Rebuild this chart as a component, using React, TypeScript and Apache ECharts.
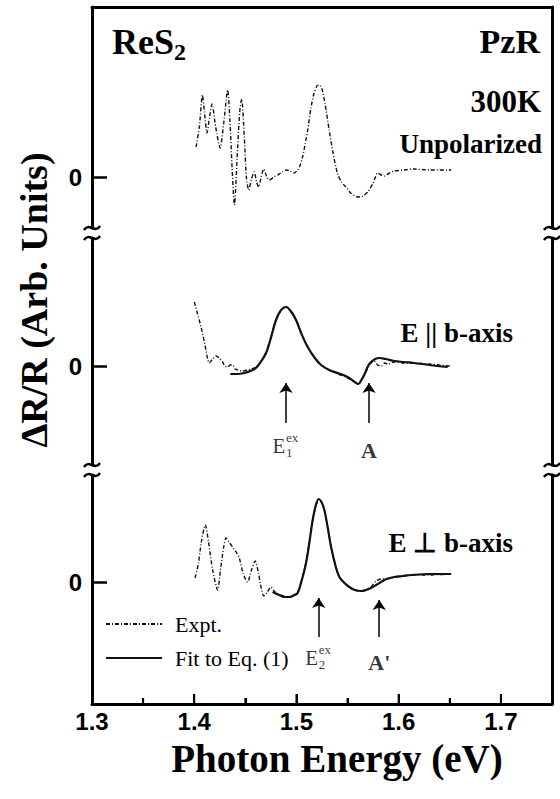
import React, { useEffect, useRef } from 'react';
import * as echarts from 'echarts';

// ---------- data ----------
const xMajorTicks = [1.3, 1.4, 1.5, 1.6, 1.7];
const xMinorTicks = [1.35, 1.45, 1.55, 1.65];
const zeroTick = [0];

// Panel 1: unpolarized, experiment
const unpolEnergy = [1.4018, 1.405, 1.408, 1.41, 1.4125, 1.415, 1.4174, 1.421, 1.4253, 1.429, 1.4327, 1.435, 1.437, 1.4393, 1.442, 1.4445, 1.4464, 1.449, 1.451, 1.4533, 1.456, 1.4588, 1.461, 1.463, 1.4655, 1.468, 1.471, 1.4735, 1.478, 1.4816, 1.486, 1.4898, 1.494, 1.498, 1.501, 1.503, 1.506, 1.5085, 1.511, 1.514, 1.517, 1.52, 1.5224, 1.525, 1.528, 1.532, 1.536, 1.54, 1.544, 1.5485, 1.553, 1.56, 1.565, 1.5697, 1.575, 1.5795, 1.583, 1.586, 1.591, 1.5958, 1.605, 1.615, 1.63, 1.6513];
const unpolSignal = [3.0, 5.0, 8.2, 6.5, 4.4, 6.0, 7.3, 5.0, 2.9, 5.5, 8.7, 5.5, 1.0, -2.8, 2.0, 6.5, 7.8, 4.0, 0.0, -1.3, -0.2, 0.5, -0.5, -1.0, 0.0, 0.8, 0.0, -0.3, 0.0, 0.2, 0.5, 0.7, 0.6, 0.4, 0.7, 1.0, 2.0, 3.3, 4.7, 6.8, 8.3, 9.1, 9.2, 8.8, 7.3, 4.7, 2.3, 0.4, -0.5, -1.0, -1.6, -2.0, -1.9, -1.5, -0.6, 0.4, 0.2, 0.1, 0.4, 0.6, 0.7, 0.8, 0.7, 0.7];

// Panel 2: E || b-axis
const paraExptEnergy = [1.4001, 1.403, 1.4067, 1.41, 1.4148, 1.418, 1.4213, 1.4245, 1.4278, 1.43, 1.4327, 1.435, 1.4376, 1.44, 1.4425, 1.447, 1.4522, 1.456, 1.4604, 1.465, 1.4703, 1.475, 1.48, 1.485, 1.4898, 1.495, 1.4996, 1.505, 1.511, 1.518, 1.5241, 1.532, 1.5403, 1.546, 1.5517, 1.557, 1.5605, 1.5635, 1.5663, 1.57, 1.5729, 1.576, 1.5795, 1.583, 1.586, 1.59, 1.5958, 1.605, 1.615, 1.63, 1.64, 1.65];
const paraExptSignal = [6.4, 5.3, 3.9, 2.4, 0.3, 0.7, 1.0, 0.8, 0.4, 0.0, -0.1, 0.1, 0.1, -0.3, -0.4, -0.5, -0.4, -0.3, -0.1, 0.4, 1.4, 2.9, 4.6, 5.6, 5.9, 5.5, 4.6, 3.2, 1.9, 0.8, 0.1, -0.4, -0.8, -1.0, -1.3, -1.6, -1.8, -1.4, -0.9, -0.2, 0.3, 0.5, 0.1, 0.0, 0.3, 0.2, 0.4, 0.3, 0.3, 0.2, 0.1, 0.0];
const paraFitEnergy = [1.4353, 1.442, 1.449, 1.455, 1.4604, 1.465, 1.4703, 1.475, 1.48, 1.485, 1.4898, 1.495, 1.4996, 1.505, 1.511, 1.518, 1.5241, 1.532, 1.5403, 1.546, 1.5517, 1.557, 1.5605, 1.5635, 1.5663, 1.57, 1.5729, 1.577, 1.581, 1.587, 1.5958, 1.605, 1.615, 1.63, 1.648];
const paraFitSignal = [-0.8, -0.8, -0.7, -0.5, -0.2, 0.4, 1.3, 2.8, 4.6, 5.6, 5.9, 5.4, 4.6, 3.2, 1.9, 0.8, 0.1, -0.4, -0.7, -0.9, -1.2, -1.6, -1.8, -1.4, -0.9, 0.0, 0.4, 0.7, 0.8, 0.7, 0.5, 0.4, 0.3, 0.1, -0.1];

// Panel 3: E ⊥ b-axis
const perpExptEnergy = [1.4008, 1.404, 1.407, 1.4108, 1.414, 1.418, 1.4229, 1.426, 1.429, 1.431, 1.434, 1.4376, 1.441, 1.4441, 1.448, 1.4522, 1.456, 1.4597, 1.463, 1.4655, 1.468, 1.4715, 1.4751, 1.478, 1.482, 1.488, 1.493, 1.498, 1.5012, 1.505, 1.5094, 1.513, 1.5159, 1.519, 1.5218, 1.5245, 1.5273, 1.5305, 1.5339, 1.538, 1.542, 1.547, 1.5517, 1.557, 1.5632, 1.568, 1.5729, 1.578, 1.5828, 1.588, 1.5958, 1.604, 1.6121, 1.63, 1.6513];
const perpExptSignal = [0.4, 1.8, 4.0, 5.7, 4.0, 1.2, -0.8, 1.5, 3.6, 4.4, 4.0, 3.5, 3.0, 2.4, 0.8, 0.0, 1.2, 2.1, 0.8, -0.6, -1.4, -1.0, -0.5, -0.9, -1.2, -1.4, -1.5, -1.3, -1.0, 0.2, 2.0, 4.3, 6.2, 7.6, 8.3, 8.0, 7.2, 5.5, 3.5, 1.7, 0.5, -0.1, -0.5, -0.8, -0.9, -0.8, -0.5, 0.1, 0.3, 0.3, 0.5, 0.6, 0.7, 0.7, 0.8];
const perpFitEnergy = [1.4767, 1.483, 1.488, 1.493, 1.498, 1.5012, 1.505, 1.5094, 1.513, 1.5159, 1.519, 1.5218, 1.5245, 1.5273, 1.5305, 1.5339, 1.538, 1.542, 1.547, 1.5517, 1.557, 1.5632, 1.568, 1.5729, 1.578, 1.5828, 1.588, 1.5958, 1.604, 1.6121, 1.63, 1.6513];
const perpFitSignal = [-1.0, -1.3, -1.5, -1.5, -1.3, -1.1, 0.1, 1.9, 4.2, 6.2, 7.7, 8.3, 8.0, 7.2, 5.5, 3.5, 1.7, 0.5, -0.1, -0.5, -0.8, -0.9, -0.8, -0.6, -0.3, 0.0, 0.3, 0.5, 0.6, 0.7, 0.8, 0.8];

// Transition markers (energy, arrow tail, arrow tip, label y)
const paraMarkers = [
  { name: 'E1', energy: 1.4898, tail: -5.7, tip: -1.7, labelY: -7.9, sub: '1' },
  { name: 'A', energy: 1.571, tail: -5.7, tip: -1.7, labelY: -8.4 },
];
const perpMarkers = [
  { name: 'E2', energy: 1.5218, tail: -5.5, tip: -1.6, labelY: -7.5, sub: '2' },
  { name: "A'", energy: 1.581, tail: -5.5, tip: -1.8, labelY: -8.0 },
];

const zip = (xs: number[], ys: number[]) => xs.map((x, i) => [x, ys[i]]);

const SERIF = '"Liberation Serif", "Times New Roman", serif';
const SANS = '"Liberation Sans", Arial, sans-serif';
const INK = '#111';

export default function App() {
  const ref = useRef<HTMLDivElement>(null);

  useEffect(() => {
    if (!ref.current) return;
    const chart = echarts.init(ref.current, null, { renderer: 'svg' });

    const gridL = 92;
    const gridR = 8;
    const panels = [
      { top: 7, height: 221, min: -5.1, max: 17.0 },
      { top: 238, height: 227, min: -9.9, max: 12.8 },
      { top: 475, height: 229, min: -12.2, max: 10.7 },
    ];
    const bottom = panels[2];

    const exptStyle = { color: INK, width: 1.4, type: [4, 2, 1, 2] as any };
    const fitStyle = { color: INK, width: 2.2, type: 'solid' as any };

    const markLineOf = (ms: any[]) => ({
      silent: true,
      symbol: ['none', 'arrow'],
      symbolSize: 10,
      label: { show: false },
      lineStyle: { color: '#000', width: 1.5, type: 'solid' },
      data: ms.map((m) => [{ coord: [m.energy, m.tail] }, { coord: [m.energy, m.tip] }]),
    });

    const lab = (x: number, y: number, text: string, size: number, weight: string, ox: number, oy: number, align = 'center', lineHeight?: number) => ({
      value: [x, y],
      label: {
        show: true,
        position: 'inside',
        formatter: text,
        fontSize: size,
        fontWeight: weight,
        fontFamily: SERIF,
        color: '#000',
        align,
        lineHeight,
        offset: [ox, oy],
      },
    });

    const squiggle = (x: number, y: number) => ({
      type: 'bezierCurve',
      shape: { x1: x - 8, y1: y + 2, cpx1: x - 3, cpy1: y - 6, cpx2: x + 3, cpy2: y + 6, x2: x + 8, y2: y - 2 },
      style: { stroke: '#000', lineWidth: 2.5, fill: 'none' },
      silent: true,
    });
    const breaks: any[] = [];
    [228, 238, 465, 475].forEach((y) => {
      breaks.push(squiggle(gridL, y));
      breaks.push(squiggle(560 - gridR, y));
    });

    const txt = (text: string, x: number, y: number, size: number, align: string, weight = 'bold', rotation = 0) => ({
      type: 'text',
      x,
      y,
      rotation,
      style: {
        text,
        fill: '#000',
        font: `${weight} ${size}px ${SERIF}`,
        textAlign: align,
        textVerticalAlign: 'middle',
        align,
        verticalAlign: 'middle',
      },
      silent: true,
    });

    const staticGraphics = [
      ...breaks,
      txt('ReS', 112, 42, 36, 'left'),
      txt('2', 174, 52, 24, 'left'),
      txt('PzR', 540, 41, 34, 'right'),
      txt('300K', 541, 101, 31, 'right'),
      txt('Unpolarized', 542, 144, 27, 'right'),
      txt('E || b-axis', 513, 333, 27, 'right'),
      txt('E \u22A5 b-axis', 513, 543, 27, 'right'),
      txt('\u0394R/R (Arb. Units)', 34, 300, 38, 'center', 'bold', Math.PI / 2),
      txt('Photon Energy (eV)', 337, 758, 39, 'center'),
    ];

    const option: any = {
      animation: false,
      backgroundColor: '#fff',
      grid: panels.map((p) => ({ left: gridL, right: gridR, top: p.top, height: p.height })),
      xAxis: [
        {
          gridIndex: 0, type: 'value', min: 1.3, max: 1.75, position: 'top',
          axisLine: { show: true, onZero: false, lineStyle: { color: '#000', width: 3 } },
          axisTick: { show: false }, axisLabel: { show: false }, splitLine: { show: false },
        },
        {
          gridIndex: 1, type: 'value', min: 1.3, max: 1.75, show: false,
        },
        {
          gridIndex: 2, type: 'value', min: 1.3, max: 1.75, interval: 0.1, position: 'bottom',
          axisLine: { show: true, onZero: false, lineStyle: { color: '#000', width: 3 } },
          axisTick: { show: true, inside: true, length: 10, lineStyle: { color: '#000', width: 2 } },
          minorTick: { show: true, splitNumber: 2, length: 6, lineStyle: { color: '#000', width: 2 } },
          axisLabel: {
            show: true, margin: 5, showMaxLabel: false,
            formatter: (v: number) => (Math.abs(v - 1.75) < 1e-6 ? '' : v.toFixed(1)),
            fontSize: 24, fontWeight: 'bold', fontFamily: SANS, color: '#000',
          },
          splitLine: { show: false },
        },
      ],
      yAxis: [
        ...panels.map((p, i) => ({
          gridIndex: i, type: 'value', min: p.min, max: p.max, position: 'left',
          axisLine: { show: true, onZero: false, lineStyle: { color: '#000', width: 3 } },
          axisTick: { show: true, inside: true, length: 15, customValues: zeroTick, lineStyle: { color: '#000', width: 2.5 } },
          axisLabel: { show: true, customValues: zeroTick, margin: 10, fontSize: 24, fontWeight: 'bold', fontFamily: SANS, color: '#000' },
          splitLine: { show: false },
        })),
        ...panels.map((p, i) => ({
          gridIndex: i, type: 'value', min: p.min, max: p.max, position: 'right',
          axisLine: { show: true, onZero: false, lineStyle: { color: '#000', width: 3 } },
          axisTick: { show: false }, axisLabel: { show: false }, splitLine: { show: false },
        })),
      ],
      legend: {
        data: ['Expt.', 'Fit to Eq. (1)'],
        orient: 'vertical',
        left: 100,
        top: 608,
        itemWidth: 56,
        itemHeight: 12,
        itemGap: 12,
        selectedMode: false,
        itemStyle: { opacity: 0, borderWidth: 0 },
        textStyle: { fontFamily: SERIF, fontSize: 22, color: '#000', padding: [0, 0, 0, 8] },
      },
      series: [
        {
          name: 'Expt.', type: 'line', xAxisIndex: 0, yAxisIndex: 0, data: zip(unpolEnergy, unpolSignal),
          symbol: 'none', smooth: 0.25, lineStyle: exptStyle, itemStyle: { color: INK },
        },
        {
          name: 'Expt.', type: 'line', xAxisIndex: 1, yAxisIndex: 1, data: zip(paraExptEnergy, paraExptSignal),
          symbol: 'none', smooth: 0.25, lineStyle: exptStyle, itemStyle: { color: INK },
        },
        {
          name: 'Fit to Eq. (1)', type: 'line', xAxisIndex: 1, yAxisIndex: 1, data: zip(paraFitEnergy, paraFitSignal),
          symbol: 'none', smooth: 0.35, lineStyle: fitStyle, itemStyle: { color: INK },
          markLine: markLineOf(paraMarkers),
        },
        {
          name: 'Expt.', type: 'line', xAxisIndex: 2, yAxisIndex: 2, data: zip(perpExptEnergy, perpExptSignal),
          symbol: 'none', smooth: 0.25, lineStyle: exptStyle, itemStyle: { color: INK },
        },
        {
          name: 'Fit to Eq. (1)', type: 'line', xAxisIndex: 2, yAxisIndex: 2, data: zip(perpFitEnergy, perpFitSignal),
          symbol: 'none', smooth: 0.35, lineStyle: fitStyle, itemStyle: { color: INK },
          markLine: markLineOf(perpMarkers),
        },
        {
          name: 'labels2', type: 'scatter', xAxisIndex: 1, yAxisIndex: 1, symbolSize: 0, silent: true,
          data: [
            lab(paraMarkers[0].energy, paraMarkers[0].labelY, 'E', 21, 'normal', -7, 1),
            lab(paraMarkers[0].energy, paraMarkers[0].labelY, 'ex\n' + paraMarkers[0].sub, 13, 'normal', 0, 0, 'left', 15),
            lab(paraMarkers[1].energy, paraMarkers[1].labelY, 'A', 22, 'bold', 0, 0),
          ],
        },
        {
          name: 'labels3', type: 'scatter', xAxisIndex: 2, yAxisIndex: 2, symbolSize: 0, silent: true,
          data: [
            lab(perpMarkers[0].energy, perpMarkers[0].labelY, 'E', 21, 'normal', -7, 1),
            lab(perpMarkers[0].energy, perpMarkers[0].labelY, 'ex\n' + perpMarkers[0].sub, 13, 'normal', 0, 0, 'left', 15),
            lab(perpMarkers[1].energy, perpMarkers[1].labelY, "A'", 22, 'bold', 0, 0),
          ],
        },
      ],
      graphic: staticGraphics,
    };

    chart.setOption(option);

    // inward tick marks on the energy axis, positioned through the bottom panel's scales
    const tickLines: any[] = [];
    const addTicks = (values: number[], len: number) => {
      values.forEach((v) => {
        const p = chart.convertToPixel({ xAxisIndex: 2, yAxisIndex: 2 } as any, [v, bottom.min]) as number[];
        if (!p || !isFinite(p[0])) return;
        tickLines.push({
          type: 'line',
          z: 100,
          silent: true,
          shape: { x1: p[0], y1: p[1], x2: p[0], y2: p[1] - len },
          style: { stroke: '#000', lineWidth: 2 },
        });
      });
    };
    addTicks(xMajorTicks, 10);
    addTicks(xMinorTicks, 6);
    chart.setOption({ graphic: [...staticGraphics, ...tickLines] });

    return () => chart.dispose();
  }, []);

  return (
    <div
      ref={ref}
      style={{ position: 'absolute', left: 0, top: 0, width: 560, height: 799, background: '#fff' }}
    />
  );
}
